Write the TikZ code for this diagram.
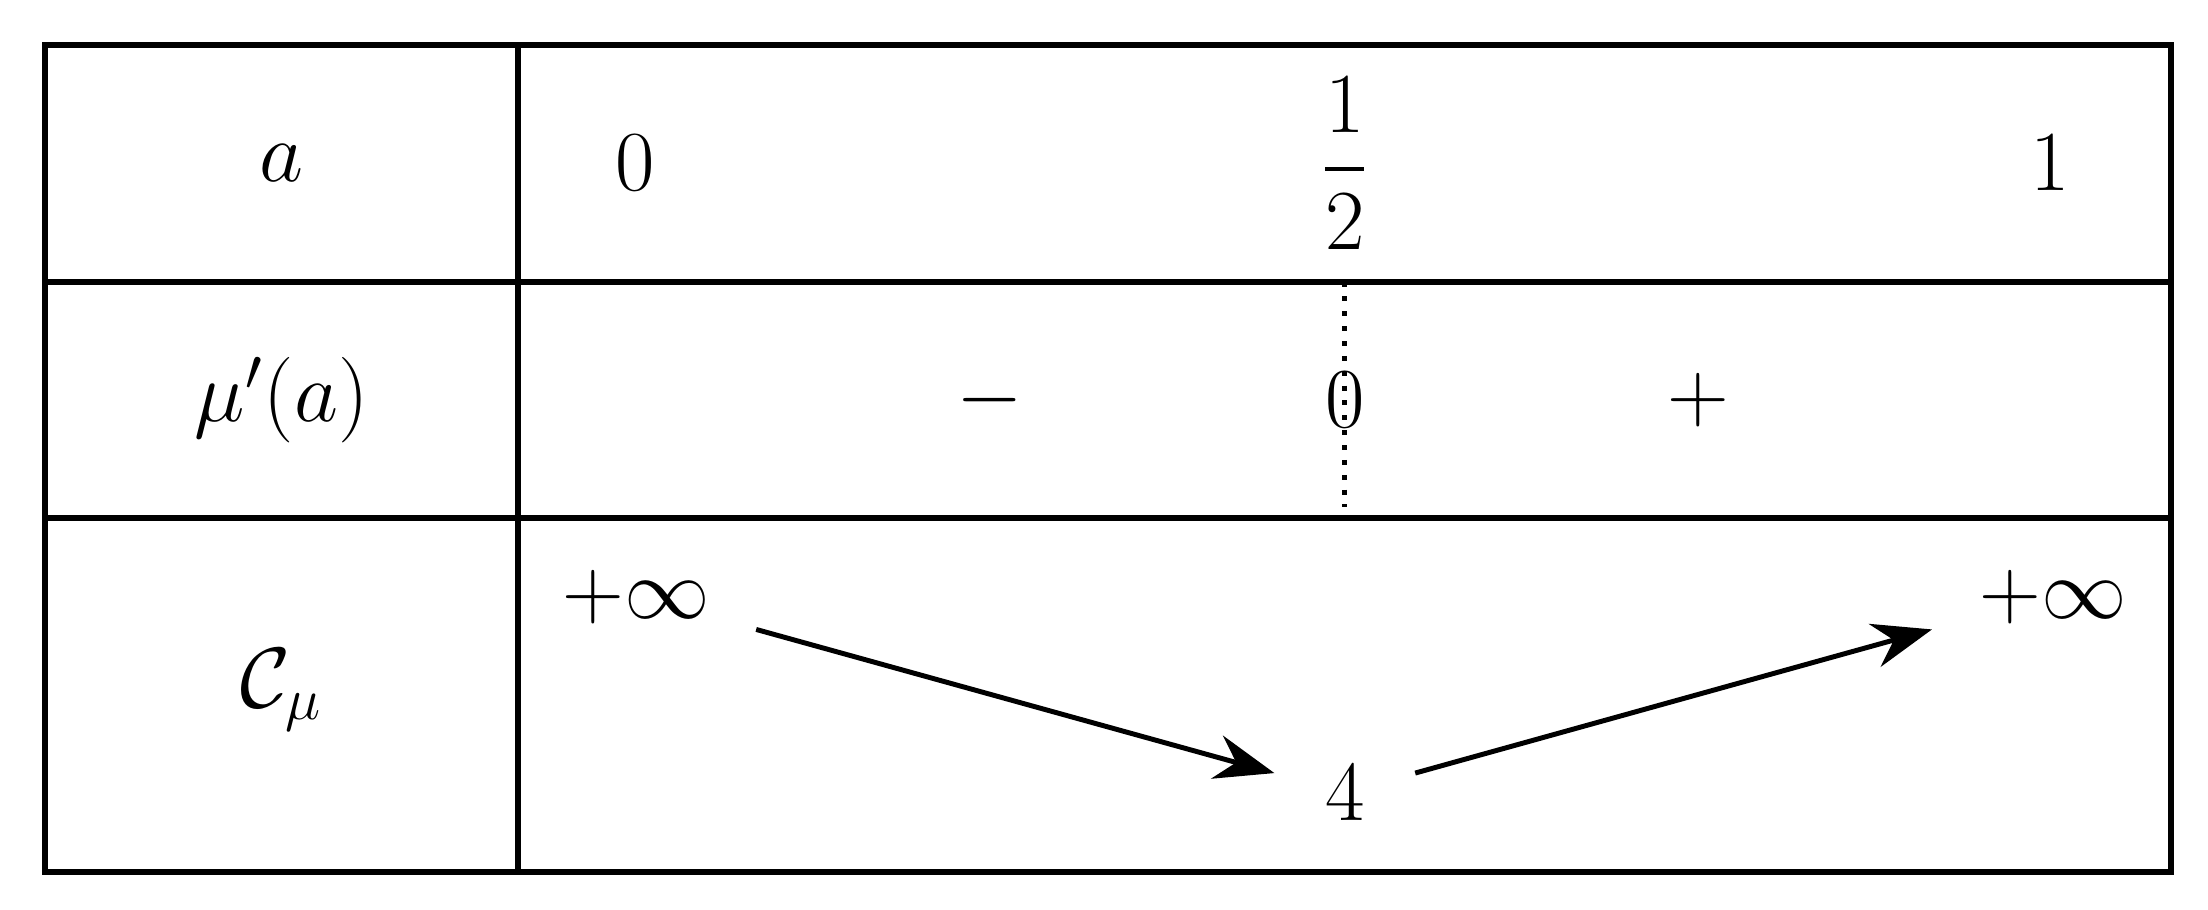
\documentclass[tikz,border=0pt]{standalone}
\usepackage{amsmath}
\usetikzlibrary{arrows.meta}
\begin{document}
\begin{tikzpicture}[x=0.01cm,y=-0.01cm]
  \tikzstyle{grid}=[line width=1.2pt]
  \tikzstyle{entry}=[inner sep=0pt, font=\fontsize{17}{20}\selectfont]
  \tikzstyle{var}=[-{Stealth[length=12pt,width=9pt,inset=4pt]}, line width=1pt]

  \useasboundingbox (0,0) rectangle (1568,646);
  \draw[grid] (32,32) rectangle (1542,619);
  \draw[grid] (368,32) -- (368,619);
  \draw[grid] (32,200) -- (1542,200);
  \draw[grid] (32,368) -- (1542,368);

  % first row
  \node[entry] (a)    at (200,116) {$a$};
  \node[entry] (a0)   at (451,116) {$0$};
  \node[entry] (ahalf) at (955,116) {$\dfrac{1}{2}$};
  \node[entry] (a1)   at (1456,116) {$1$};

  % sign row
  \node[entry] (d)     at (200,284) {$\mu'(a)$};
  \node[entry] (dminus) at (703,284) {$-$};
  \node[entry] (dzero) at (955,284) {$0$};
  \node[entry] (dplus) at (1206,284) {$+$};
  \coordinate (dtop) at (955,200);
  \coordinate (dbot) at (955,360);
  \draw[dotted, line width=1pt] (dtop) -- (dbot);

  % variation row
  \node[entry] (c)    at (200,490) {$\mathcal{C}_\mu$};
  \node[entry] (cinfL) at (452,424) {$+\infty$};
  \node[entry] (cmin) at (955,563) {$4$};
  \node[entry] (cinfR) at (1458,424) {$+\infty$};
  \coordinate (s1) at (537,447);
  \coordinate (e1) at (905,549);
  \coordinate (s2) at (1005,549);
  \coordinate (e2) at (1372,447);
  \draw[var] (s1) -- (e1);
  \draw[var] (s2) -- (e2);
\end{tikzpicture}
\end{document}
